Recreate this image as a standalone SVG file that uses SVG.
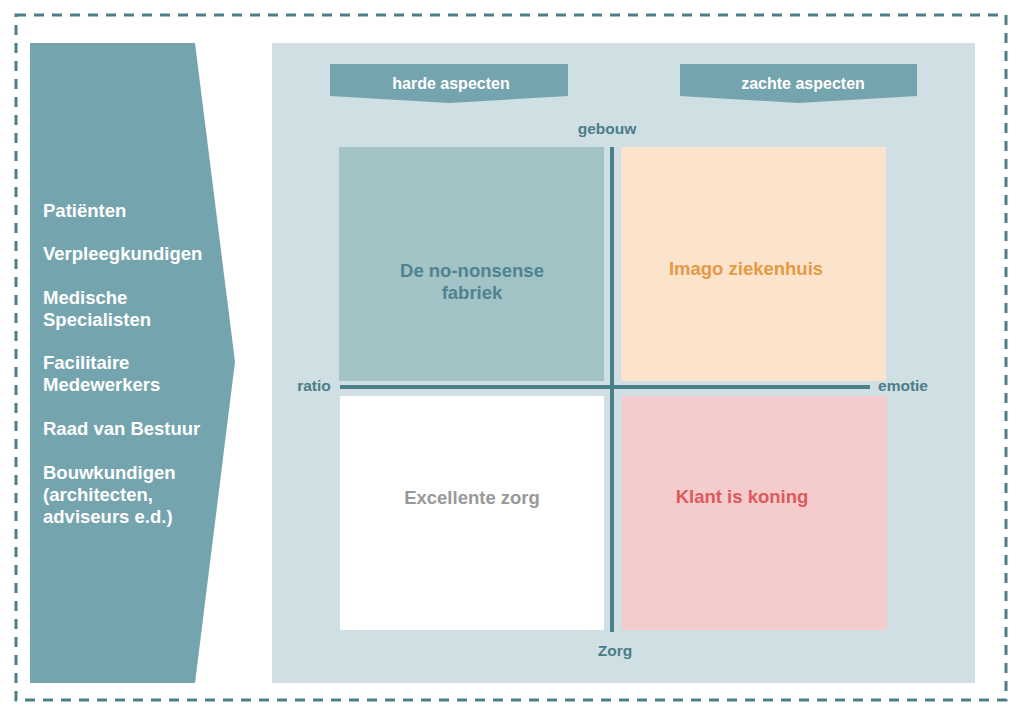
<svg xmlns="http://www.w3.org/2000/svg" width="1023" height="717" viewBox="0 0 1023 717">
<style>
.lbl{font-family:"Liberation Sans",Arial,sans-serif;font-weight:bold}
.side{fill:#ffffff;font-size:18.5px}
.axis{fill:#4a7d88;font-size:15.5px}
.tag{fill:#ffffff;font-size:16px}
.q{font-size:18.5px;text-anchor:middle}
</style>
<rect x="0" y="0" width="1023" height="717" fill="#ffffff"/>
<rect x="16" y="15" width="990" height="685" fill="none" stroke="#4d7f89" stroke-width="3" stroke-dasharray="10,8"/>
<g id="stakeholders">
<polygon points="30,43 195,43 235,362 195,683 30,683" fill="#74a4ae"/>
<text class="lbl side" x="43" y="217">Patiënten</text>
<text class="lbl side" x="43" y="260">Verpleegkundigen</text>
<text class="lbl side" x="43" y="304">Medische</text>
<text class="lbl side" x="43" y="326">Specialisten</text>
<text class="lbl side" x="43" y="369">Facilitaire</text>
<text class="lbl side" x="43" y="391">Medewerkers</text>
<text class="lbl side" x="43" y="435">Raad van Bestuur</text>
<text class="lbl side" x="43" y="479">Bouwkundigen</text>
<text class="lbl side" x="43" y="501">(architecten,</text>
<text class="lbl side" x="43" y="523">adviseurs e.d.)</text>
</g>
<g id="panel">
<rect x="272" y="43" width="703" height="640" fill="#d0dfe3"/>
</g>
<g id="tag-harde">
<polygon points="330,64 568,64 568,96 449,103 330,96" fill="#74a4ae"/>
<text class="lbl tag" x="451" y="89" text-anchor="middle">harde aspecten</text>
</g>
<g id="tag-zachte">
<polygon points="680,64 917,64 917,96 798,103 680,96" fill="#74a4ae"/>
<text class="lbl tag" x="803" y="89" text-anchor="middle">zachte aspecten</text>
</g>
<g id="q-tl">
<rect x="339" y="147" width="265" height="234" fill="#a3c3c7"/>
<text class="lbl q" x="472" y="277" fill="#4d8490">De no-nonsense</text>
<text class="lbl q" x="472" y="299" fill="#4d8490">fabriek</text>
</g>
<g id="q-tr">
<rect x="621" y="147" width="265" height="234" fill="#fce3cc"/>
<text class="lbl q" x="746" y="275" fill="#e59a45">Imago ziekenhuis</text>
</g>
<g id="q-bl">
<rect x="340" y="396" width="264" height="234" fill="#ffffff"/>
<text class="lbl q" x="472" y="504" fill="#999999">Excellente zorg</text>
</g>
<g id="q-br">
<rect x="622" y="396" width="265" height="234" fill="#f3cccb"/>
<text class="lbl q" x="742" y="503" fill="#dd5a5d">Klant is koning</text>
</g>
<g id="axes">
<line x1="612" y1="147" x2="612" y2="632" stroke="#4a8089" stroke-width="4"/>
<line x1="340" y1="387" x2="870" y2="387" stroke="#4a8089" stroke-width="4"/>
<text class="lbl axis" x="607" y="134" text-anchor="middle">gebouw</text>
<text class="lbl axis" x="314" y="391" text-anchor="middle">ratio</text>
<text class="lbl axis" x="903" y="391" text-anchor="middle">emotie</text>
<text class="lbl axis" x="615" y="656" text-anchor="middle">Zorg</text>
</g>
</svg>
